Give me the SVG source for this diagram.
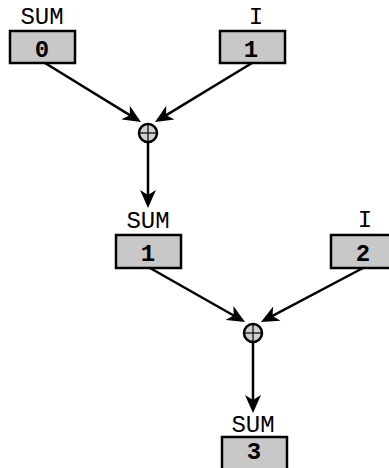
<svg xmlns="http://www.w3.org/2000/svg" width="389" height="468" viewBox="0 0 389 468">
<style>
.box{fill:#c8c8c8;stroke:#000;stroke-width:2.5}
.lbl{font-family:"Liberation Mono","Courier New",monospace;font-size:24px;fill:#000;text-anchor:middle}
.val{font-family:"Liberation Mono","Courier New",monospace;font-size:24px;font-weight:bold;fill:#000;text-anchor:middle}
.op{fill:#d0d0d0;stroke:#000;stroke-width:2.5}
.plus{stroke:#000;stroke-width:1.2}
.edge{stroke:#000;stroke-width:2.5;fill:none;marker-end:url(#ah)}
</style>
<defs>
<marker id="ah" markerWidth="18" markerHeight="16" refX="13" refY="8" orient="auto" markerUnits="userSpaceOnUse" viewBox="0 0 18 16">
<path d="M0,0 L18,8 L0,16 L5,8 z" fill="#000"/>
</marker>
</defs>
<rect width="389" height="468" fill="#fff"/>
<g id="connectors">
<line class="edge" x1="45" y1="63" x2="136.7" y2="119.4"/>
<line class="edge" x1="252" y1="63" x2="159.3" y2="119.4"/>
<line class="edge" x1="148" y1="142" x2="148" y2="203"/>
<line class="edge" x1="150" y1="268" x2="240.7" y2="319.5"/>
<line class="edge" x1="363" y1="268" x2="265.4" y2="319.7"/>
<line class="edge" x1="253" y1="342" x2="253" y2="408"/>
</g>
<g id="sum0">
<text class="lbl" x="42" y="24">SUM</text>
<rect class="box" x="10" y="31" width="65" height="32"/>
<text class="val" x="42" y="57">0</text>
</g>
<g id="i1">
<text class="lbl" x="256" y="24">I</text>
<rect class="box" x="220" y="31" width="65" height="32"/>
<text class="val" x="251" y="57">1</text>
</g>
<g id="add1">
<circle class="op" cx="148" cy="133" r="9"/>
<line class="plus" x1="140" y1="133" x2="156" y2="133"/>
<line class="plus" x1="148" y1="125" x2="148" y2="141"/>
</g>
<g id="sum1">
<text class="lbl" x="148" y="228">SUM</text>
<rect class="box" x="116" y="235" width="65" height="33"/>
<text class="val" x="148" y="261">1</text>
</g>
<g id="i2">
<text class="lbl" x="365" y="227">I</text>
<rect class="box" x="331" y="235" width="65" height="33"/>
<text class="val" x="363" y="261">2</text>
</g>
<g id="add2">
<circle class="op" cx="253" cy="333" r="9"/>
<line class="plus" x1="245" y1="333" x2="261" y2="333"/>
<line class="plus" x1="253" y1="325" x2="253" y2="341"/>
</g>
<g id="sum3">
<text class="lbl" x="253" y="432">SUM</text>
<rect class="box" x="222" y="437" width="65" height="33"/>
<text class="val" x="254" y="459">3</text>
</g>
</svg>
